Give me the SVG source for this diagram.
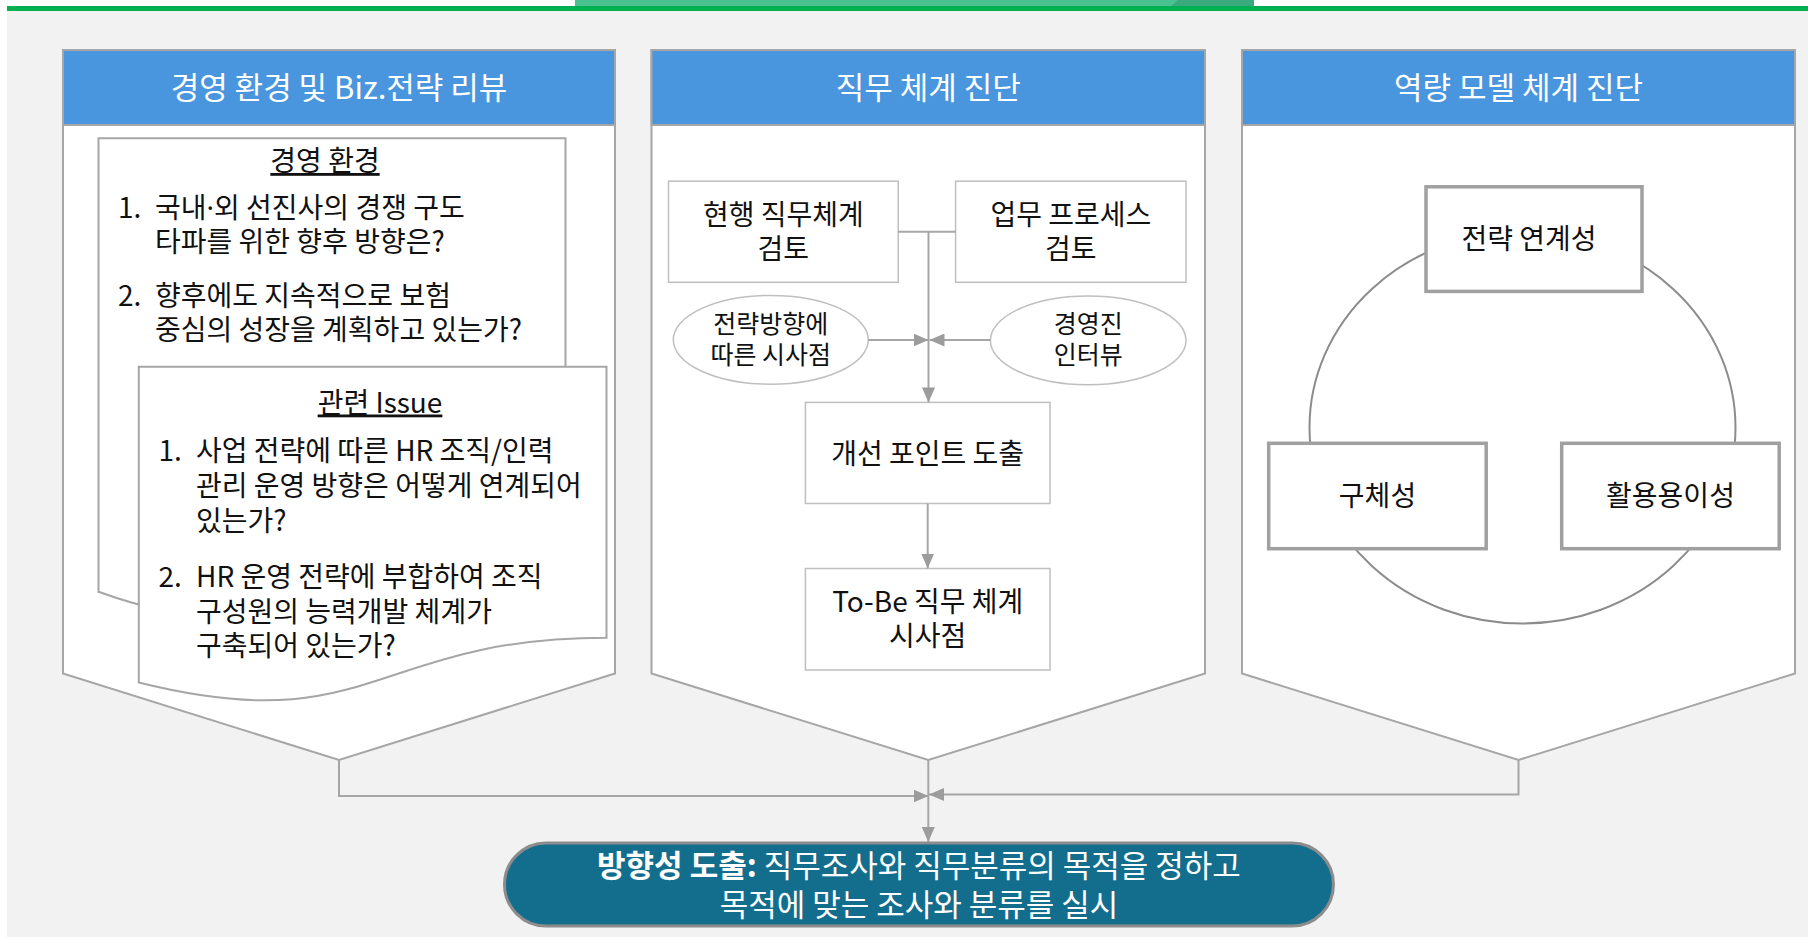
<svg xmlns="http://www.w3.org/2000/svg" width="1808" height="938" viewBox="0 0 1808 938">
<style>
text{font-family:"Noto Sans CJK KR","Noto Sans",sans-serif;}
.panel{fill:#FFFFFF;stroke:#A6A6A6;stroke-width:2;}
.hdr{fill:#4A96DE;stroke:#A6A6A6;stroke-width:2;}
.ht{font-size:31px;fill:#FFFFFF;text-anchor:middle;}
.t{font-size:28px;fill:#111111;}
.c{text-anchor:middle;}
.s{font-size:25px;fill:#111111;text-anchor:middle;}
.doc{fill:#FFFFFF;stroke:#A6A6A6;stroke-width:2;}
.box{fill:#FFFFFF;stroke:#BFBFBF;stroke-width:1.5;}
.tbox{fill:#FFFFFF;stroke:#A0A0A0;stroke-width:3.5;}
.ell{fill:#FFFFFF;stroke:#BFBFBF;stroke-width:1.5;}
.ln{fill:none;stroke:#A6A6A6;stroke-width:2;}
.pt{font-size:31px;fill:#FFFFFF;text-anchor:middle;}
.dot{font-family:"Noto Sans","DejaVu Sans",sans-serif;}
</style>
<defs>
<marker id="ah" viewBox="0 0 15 13" refX="15" refY="6.5" markerWidth="15" markerHeight="13" markerUnits="userSpaceOnUse" orient="auto">
<path d="M0,0 L15,6.5 L0,13 Z" fill="#9C9C9C"/>
</marker>
</defs>

<rect x="0" y="0" width="1808" height="938" fill="#FFFFFF"/>
<rect x="7" y="11" width="1801" height="926" fill="#F2F2F2"/>
<rect x="575" y="0" width="679" height="7" fill="#49C191"/>
<polygon points="1178,0 1254,0 1254,7 1170,7" fill="#3CAA7F"/>
<rect x="7" y="6" width="1801" height="5" fill="#00B050"/>

<g id="panel1">
<path class="panel" d="M63,50 H615 V673.5 L339,760 L63,673.5 Z"/>
<rect class="hdr" x="63" y="50" width="552" height="75"/>
<text class="ht" x="339" y="99">경영 환경 및 Biz.전략 리뷰</text>
</g>
<g id="doc-env">
<path class="doc" d="M98.5,138.3 H565.5 V527.8 C332,527.8 332,676.1 98.5,591.8 Z"/>
<text class="t c" x="325" y="171" text-decoration="underline">경영 환경</text>
<text class="t"><tspan x="118" y="218">1.</tspan><tspan x="155" y="218">국내<tspan class="dot">·</tspan>외 선진사의 경쟁 구도</tspan></text>
<text class="t" x="155" y="252">타파를 위한 향후 방향은?</text>
<text class="t"><tspan x="118" y="305.5">2.</tspan><tspan x="155" y="305.5">향후에도 지속적으로 보험</tspan></text>
<text class="t" x="155" y="340">중심의 성장을 계획하고 있는가?</text>
</g>
<g id="doc-issue">
<path class="doc" d="M138.8,366.8 H606.5 V637.7 C372.6,637.7 372.6,740.9 138.8,682.5 Z"/>
<text class="t c" x="380" y="412.5" text-decoration="underline">관련 Issue</text>
<text class="t"><tspan x="158.5" y="461">1.</tspan><tspan x="196" y="461">사업 전략에 따른 HR 조직/인력</tspan></text>
<text class="t" x="196" y="496">관리 운영 방향은 어떻게 연계되어</text>
<text class="t" x="196" y="531">있는가?</text>
<text class="t"><tspan x="158.5" y="587">2.</tspan><tspan x="196" y="587">HR 운영 전략에 부합하여 조직</tspan></text>
<text class="t" x="196" y="621.5">구성원의 능력개발 체계가</text>
<text class="t" x="196" y="656">구축되어 있는가?</text>
</g>

<g id="panel2">
<path class="panel" d="M651.5,50 H1205 V673.5 L928.3,760 L651.5,673.5 Z"/>
<rect class="hdr" x="651.5" y="50" width="553.5" height="75"/>
<text class="ht" x="928.3" y="99">직무 체계 진단</text>
</g>
<g id="current-job">
<rect class="box" x="668.5" y="181.2" width="229.7" height="101.1"/>
<text class="t c" x="783.3" y="225">현행 직무체계</text>
<text class="t c" x="783.3" y="259">검토</text>
</g>
<g id="process">
<rect class="box" x="955.6" y="181.2" width="230.4" height="101.1"/>
<text class="t c" x="1070.8" y="225">업무 프로세스</text>
<text class="t c" x="1070.8" y="259">검토</text>
</g>
<g id="strategy-implication">
<ellipse class="ell" cx="770.8" cy="339.8" rx="97.5" ry="44.4"/>
<text class="s" x="770.8" y="333">전략방향에</text>
<text class="s" x="770.8" y="363.5">따른 시사점</text>
</g>
<g id="interview">
<ellipse class="ell" cx="1088.2" cy="340.4" rx="97.8" ry="44.4"/>
<text class="s" x="1088.2" y="333">경영진</text>
<text class="s" x="1088.2" y="363.5">인터뷰</text>
</g>
<g id="improve">
<rect class="box" x="805.4" y="402.4" width="244.6" height="101.1"/>
<text class="t c" x="927.7" y="463.5">개선 포인트 도출</text>
</g>
<g id="tobe">
<rect class="box" x="805.4" y="568.5" width="244.6" height="101.5"/>
<text class="t c" x="927.7" y="611.5">To-Be 직무 체계</text>
<text class="t c" x="927.7" y="646">시사점</text>
</g>

<g id="panel3">
<path class="panel" d="M1242,50 H1795 V673.5 L1518.5,760 L1242,673.5 Z"/>
<rect class="hdr" x="1242" y="50" width="553" height="75"/>
<text class="ht" x="1518.5" y="99">역량 모델 체계 진단</text>
<ellipse cx="1522.5" cy="427.5" rx="213" ry="196" fill="none" stroke="#8C8C8C" stroke-width="2"/>
</g>
<g id="strategic-link">
<rect class="tbox" x="1426" y="186.8" width="216" height="104.6"/>
<text class="t c" x="1529" y="249">전략 연계성</text>
</g>
<g id="concreteness">
<rect class="tbox" x="1268.7" y="443.3" width="217.5" height="105.4"/>
<text class="t c" x="1377.5" y="505.5">구체성</text>
</g>
<g id="usability">
<rect class="tbox" x="1561.7" y="443.3" width="217.5" height="105.4"/>
<text class="t c" x="1670.5" y="505.5">활용용이성</text>
</g>

<g id="connectors">
<path class="ln" d="M898.2,231.7 H955.6"/>
<path class="ln" d="M928.5,231.7 V402.4" marker-end="url(#ah)"/>
<path class="ln" d="M868.3,340 H928.5" marker-end="url(#ah)"/>
<path class="ln" d="M990.4,340 H929.5" marker-end="url(#ah)"/>
<path class="ln" d="M927.7,503.5 V568.5" marker-end="url(#ah)"/>
<path class="ln" d="M339,760 V796 H928.5" marker-end="url(#ah)"/>
<path class="ln" d="M1518.5,760 V794.5 H929" marker-end="url(#ah)"/>
<path class="ln" d="M928.3,760 V842" marker-end="url(#ah)"/>
</g>

<g id="direction">
<rect x="504.5" y="843" width="829" height="83" rx="41.5" ry="41.5" fill="#136E8E" stroke="#8C8C8C" stroke-width="3"/>
<text class="pt" x="919" y="876.5"><tspan font-weight="700">방향성 도출:</tspan> 직무조사와 직무분류의 목적을 정하고</text>
<text class="pt" x="919" y="916">목적에 맞는 조사와 분류를 실시</text>
</g>
</svg>
